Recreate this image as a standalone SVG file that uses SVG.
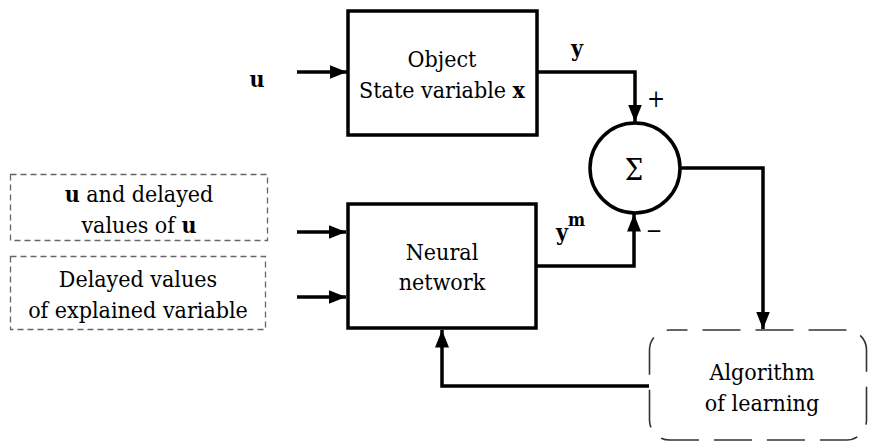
<svg xmlns="http://www.w3.org/2000/svg" width="869" height="442" viewBox="0 0 869 442">
<defs>
<marker id="ah" viewBox="0 0 10 8" refX="10" refY="4" markerWidth="5" markerHeight="4" orient="auto" markerUnits="strokeWidth">
<path d="M0,0 L10,4 L0,8 Z" fill="#000"/>
</marker>
</defs>
<style>
text{font-family:'DejaVu Serif',serif;font-stretch:condensed;fill:#000;text-anchor:middle;font-size:23px}
.b{font-weight:bold}
.sup{font-size:18px;font-weight:bold;text-anchor:start}
.plus{font-size:24px}
.minus{font-size:22px}
.sig{font-size:29px}
.box{fill:#fff;stroke:#000;stroke-width:3.5}
.dash{fill:none;stroke:#666;stroke-width:1.3;stroke-dasharray:6 4}
.alg{fill:none;stroke:#333;stroke-width:1.6;stroke-dasharray:38 15}
.c{fill:none;stroke:#000;stroke-width:3.5;marker-end:url(#ah)}
</style>
<rect width="869" height="442" fill="#fff"/>
<g id="connectors">
<path class="c" d="M297,72 H347"/>
<path class="c" d="M537,72 H635 V122"/>
<path class="c" d="M297,232 H346"/>
<path class="c" d="M297,297 H346"/>
<path class="c" d="M536,266 H634 V214"/>
<path class="c" d="M681,168 H763 V329"/>
<path class="c" d="M649,386 H442 V330"/>
</g>
<g id="object">
<rect class="box" x="348" y="11" width="189" height="124"/>
<text x="442" y="67">Object</text>
<text x="442" y="98">State variable <tspan class="b">x</tspan></text>
</g>
<g id="u-label">
<text class="b" x="257" y="87">u</text>
</g>
<g id="sum">
<circle cx="635" cy="168" r="45" fill="#fff" stroke="#000" stroke-width="3.5"/>
<text class="sig" x="634" y="180">Σ</text>
</g>
<g id="y-label">
<text class="b" x="577" y="56">y</text>
<text class="plus" x="656" y="107">+</text>
</g>
<g id="ym-label">
<text class="b" x="562" y="240">y</text>
<text class="sup" x="568" y="226">m</text>
<text class="minus" x="654" y="238">−</text>
</g>
<g id="inputs-u">
<rect class="dash" x="10.5" y="174.5" width="257" height="66"/>
<text x="139" y="202"><tspan class="b">u</tspan> and delayed</text>
<text x="139" y="233">values of <tspan class="b">u</tspan></text>
</g>
<g id="inputs-delayed">
<rect class="dash" x="10.5" y="256.5" width="255" height="73"/>
<text x="138" y="287">Delayed values</text>
<text x="138" y="318">of explained variable</text>
</g>
<g id="neural">
<rect class="box" x="348" y="204" width="188" height="124"/>
<text x="442" y="260">Neural</text>
<text x="442" y="290">network</text>
</g>
<g id="algorithm">
<rect class="alg" x="649.5" y="330" width="217" height="110" rx="20" ry="20" stroke-dashoffset="20"/>
<text x="762" y="380">Algorithm</text>
<text x="762" y="411">of learning</text>
</g>
</svg>
